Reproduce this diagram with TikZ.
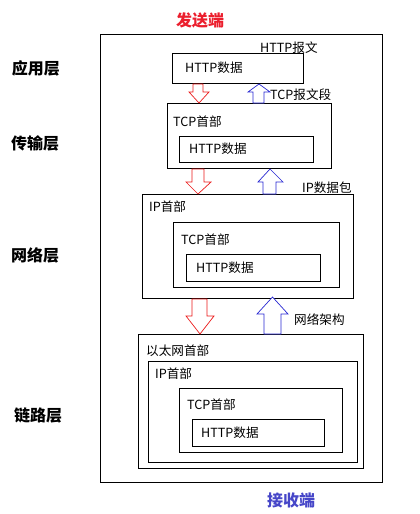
\documentclass[tikz,border=0pt]{standalone}
\usepackage{fontspec}
\setmainfont{Noto Sans CJK SC}
\definecolor{tred}{RGB}{235,30,45}
\definecolor{tblue}{RGB}{70,70,200}
\definecolor{ared}{RGB}{235,25,25}
\definecolor{ablue}{RGB}{40,40,210}
\tikzset{
  box/.style={draw=black, line width=1pt, anchor=north west, inner sep=0pt},
  lbl/.style={anchor=west, inner sep=0pt, font=\fontsize{12.6}{12.6}\selectfont},
  layer/.style={anchor=center, inner sep=0pt, font=\fontsize{16}{16}\selectfont\bfseries},
  downarr/.style={draw=ared, fill=white, line width=0.7pt, line join=miter},
  uparr/.style={draw=ablue, fill=white, line width=0.7pt, line join=miter}
}
\begin{document}
\begin{tikzpicture}[x=1pt,y=-1pt]
\useasboundingbox (0,0) rectangle (420,514);
% outer frame
\node[box, minimum width=282pt, minimum height=448pt] (outer) at (100,34) {};
% titles
\node[layer, text=tred, font=\fontsize{16}{16}\selectfont\bfseries] (send) at (200,20) {发送端};
\node[layer, text=tblue, font=\fontsize{16}{16}\selectfont\bfseries] (recv) at (291,500) {接收端};
% layer labels
\node[layer] (l1) at (36,68) {应用层};
\node[layer] (l2) at (35,143) {传输层};
\node[layer] (l3) at (35,255) {网络层};
\node[layer] (l4) at (38,415) {链路层};
% application
\node[box, minimum width=131pt, minimum height=30pt] (b1) at (172,53) {};
\node[lbl] (t1) at (185,68) {HTTP数据};
\node[lbl] (n1) at (260,48) {HTTP报文};
% transport
\node[box, minimum width=164pt, minimum height=65pt] (b2) at (167,103) {};
\node[box, minimum width=134pt, minimum height=26pt] (b2h) at (179,136) {};
\node[lbl] (t2a) at (173,122) {TCP首部};
\node[lbl] (t2b) at (189,149) {HTTP数据};
\node[lbl] (n2) at (270,95) {TCP报文段};
% network
\node[box, minimum width=211pt, minimum height=104pt] (b3) at (142,194) {};
\node[box, minimum width=166pt, minimum height=65pt] (b3t) at (173,222) {};
\node[box, minimum width=134pt, minimum height=27pt] (b3h) at (186,254) {};
\node[lbl] (t3a) at (149,207) {IP首部};
\node[lbl] (t3b) at (181,240) {TCP首部};
\node[lbl] (t3c) at (196,268) {HTTP数据};
\node[lbl] (n3) at (302,188) {IP数据包};
% link
\node[box, minimum width=225pt, minimum height=134pt] (b4) at (138,334) {};
\node[box, minimum width=209pt, minimum height=101pt] (b4i) at (148,361) {};
\node[box, minimum width=163pt, minimum height=64pt] (b4t) at (179,388) {};
\node[box, minimum width=132pt, minimum height=27pt] (b4h) at (192,419) {};
\node[lbl] (t4a) at (146,351) {以太网首部};
\node[lbl] (t4b) at (155,374) {IP首部};
\node[lbl] (t4c) at (187,405) {TCP首部};
\node[lbl] (t4d) at (201,433) {HTTP数据};
\node[lbl] (n4) at (294,320) {网络架构};
% block arrows: application <-> transport
\draw[downarr] (193,0 |- b1.south) -- (193,92) -- (189,92) -- (199,0 |- b2.north) -- (209,92) -- (203,92) -- (203,0 |- b1.south) -- cycle;
\draw[uparr] (253,0 |- b2.north) -- (253,92) -- (248,92) -- (259,0 |- b1.south) -- (270,92) -- (264,92) -- (264,0 |- b2.north) -- cycle;
% transport <-> network
\draw[downarr] (192,0 |- b2.south) -- (192,182) -- (186,182) -- (198,0 |- b3.north) -- (211,182) -- (204,182) -- (204,0 |- b2.south) -- cycle;
\draw[uparr] (263,0 |- b3.north) -- (263,182) -- (258,182) -- (270,169) -- (283,182) -- (276,182) -- (276,0 |- b3.north) -- cycle;
% network <-> link
\draw[downarr] (192,0 |- b3.south) -- (192,316) -- (186,316) -- (200,0 |- b4.north) -- (214,316) -- (207,316) -- (207,0 |- b3.south) -- cycle;
\draw[uparr] (264,0 |- b4.north) -- (264,314) -- (257,314) -- (272.5,297) -- (288,314) -- (281,314) -- (281,0 |- b4.north) -- cycle;
\end{tikzpicture}
\end{document}
